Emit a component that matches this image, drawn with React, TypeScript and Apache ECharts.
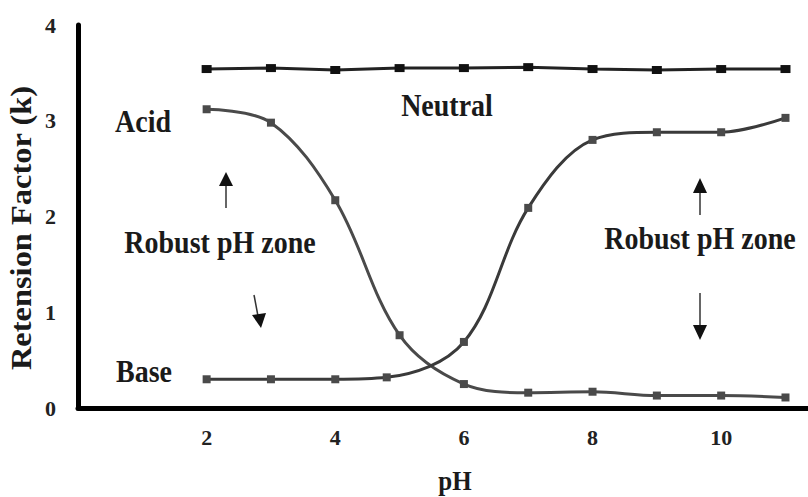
import React, { useEffect, useRef } from "react";
import * as echarts from "echarts";

const phValues = [2, 3, 4, 5, 6, 7, 8, 9, 10, 11];
const neutralK = [3.54, 3.55, 3.53, 3.55, 3.55, 3.56, 3.54, 3.53, 3.54, 3.54];
const acidK = [3.12, 2.98, 2.17, 0.76, 0.25, 0.16, 0.17, 0.13, 0.13, 0.11];
const basePh = [2, 3, 4, 4.8, 6, 7, 8, 9, 10, 11];
const baseK = [0.3, 0.3, 0.3, 0.32, 0.69, 2.09, 2.8, 2.88, 2.88, 3.03];
const xTickLabels = ["", "2", "4", "6", "8", "10"];
const yTickLabels = ["0", "1", "2", "3", "4"];

const SERIF = "'Liberation Serif', 'DejaVu Serif', serif";

export default function App() {
  const ref = useRef<HTMLDivElement>(null);
  useEffect(() => {
    if (!ref.current) return;
    const chart = echarts.init(ref.current, undefined, { renderer: "svg" });
    const txt = (text: string, x: number, y: number, size = 28) => ({
      type: "text",
      x,
      y,
      scaleY: 1.1,
      style: {
        text,
        fill: "#1a1a1a",
        font: `bold ${size}px ${SERIF}`,
        textAlign: "center",
        textVerticalAlign: "middle",
      },
    });
    const line = (x1: number, y1: number, x2: number, y2: number) => ({
      type: "line",
      shape: { x1, y1, x2, y2 },
      style: { stroke: "#333", lineWidth: 1.5 },
    });
    const tri = (pts: number[][]) => ({
      type: "polygon",
      shape: { points: pts },
      style: { fill: "#111" },
    });
    chart.setOption({
      animation: false,
      backgroundColor: "#ffffff",
      grid: { left: 78, right: 0, top: 25, bottom: 89, containLabel: false },
      xAxis: {
        type: "value",
        min: 0,
        max: 11.35,
        interval: 2,
        axisLine: { show: true, lineStyle: { color: "#000", width: 5 } },
        axisTick: { show: false },
        splitLine: { show: false },
        axisLabel: {
          margin: 18,
          showMaxLabel: false,
          color: "#222",
          fontFamily: SERIF,
          fontSize: 22,
          fontWeight: "bold",
          formatter: (v: number) => xTickLabels[Math.round(v / 2)] ?? "",
        },
      },
      yAxis: {
        type: "value",
        min: 0,
        max: 4,
        interval: 1,
        axisLine: { show: true, lineStyle: { color: "#000", width: 5 } },
        axisTick: { show: false },
        splitLine: { show: false },
        axisLabel: {
          margin: 22,
          color: "#222",
          fontFamily: SERIF,
          fontSize: 22,
          fontWeight: "bold",
          formatter: (v: number) => yTickLabels[Math.round(v)] ?? "",
        },
      },
      series: [
        {
          name: "Neutral",
          type: "line",
          data: phValues.map((x, i) => [x, neutralK[i]]),
          symbol: "rect",
          symbolSize: [10, 8],
          itemStyle: { color: "#111" },
          lineStyle: { color: "#222", width: 3 },
        },
        {
          name: "Acid",
          type: "line",
          smooth: 0.35,
          data: phValues.map((x, i) => [x, acidK[i]]),
          symbol: "rect",
          symbolSize: 8,
          itemStyle: { color: "#4a4a4a" },
          lineStyle: { color: "#4a4a4a", width: 3 },
        },
        {
          name: "Base",
          type: "line",
          smooth: 0.35,
          data: basePh.map((x, i) => [x, baseK[i]]),
          symbol: "rect",
          symbolSize: 8,
          itemStyle: { color: "#4a4a4a" },
          lineStyle: { color: "#3a3a3a", width: 3 },
        },
      ],
      graphic: [
        txt("Acid", 143, 122),
        txt("Neutral", 447, 106),
        txt("Base", 144, 372),
        txt("Robust pH zone", 220, 243),
        txt("Robust pH zone", 700, 239),
        txt("pH", 455, 481, 25),
        {
          type: "text",
          x: 22,
          y: 228,
          rotation: Math.PI / 2,
          scaleX: 1.12,
          style: {
            text: "Retension Factor (k)",
            fill: "#1a1a1a",
            font: `bold 29px ${SERIF}`,
            textAlign: "center",
            textVerticalAlign: "middle",
          },
        },
        line(226, 208, 226, 184),
        tri([[219, 186], [233, 186], [226, 172]]),
        line(254, 295, 258, 316),
        tri([[252, 315], [266, 313], [261, 328]]),
        line(700, 215, 700, 191),
        tri([[693, 193], [707, 193], [700, 178]]),
        line(700, 293, 700, 327),
        tri([[693, 325], [707, 325], [700, 340]]),
      ],
    });
    return () => chart.dispose();
  }, []);
  return (
    <div
      ref={ref}
      style={{ position: "fixed", left: 0, top: 0, width: 808, height: 497, background: "#fff" }}
    />
  );
}
